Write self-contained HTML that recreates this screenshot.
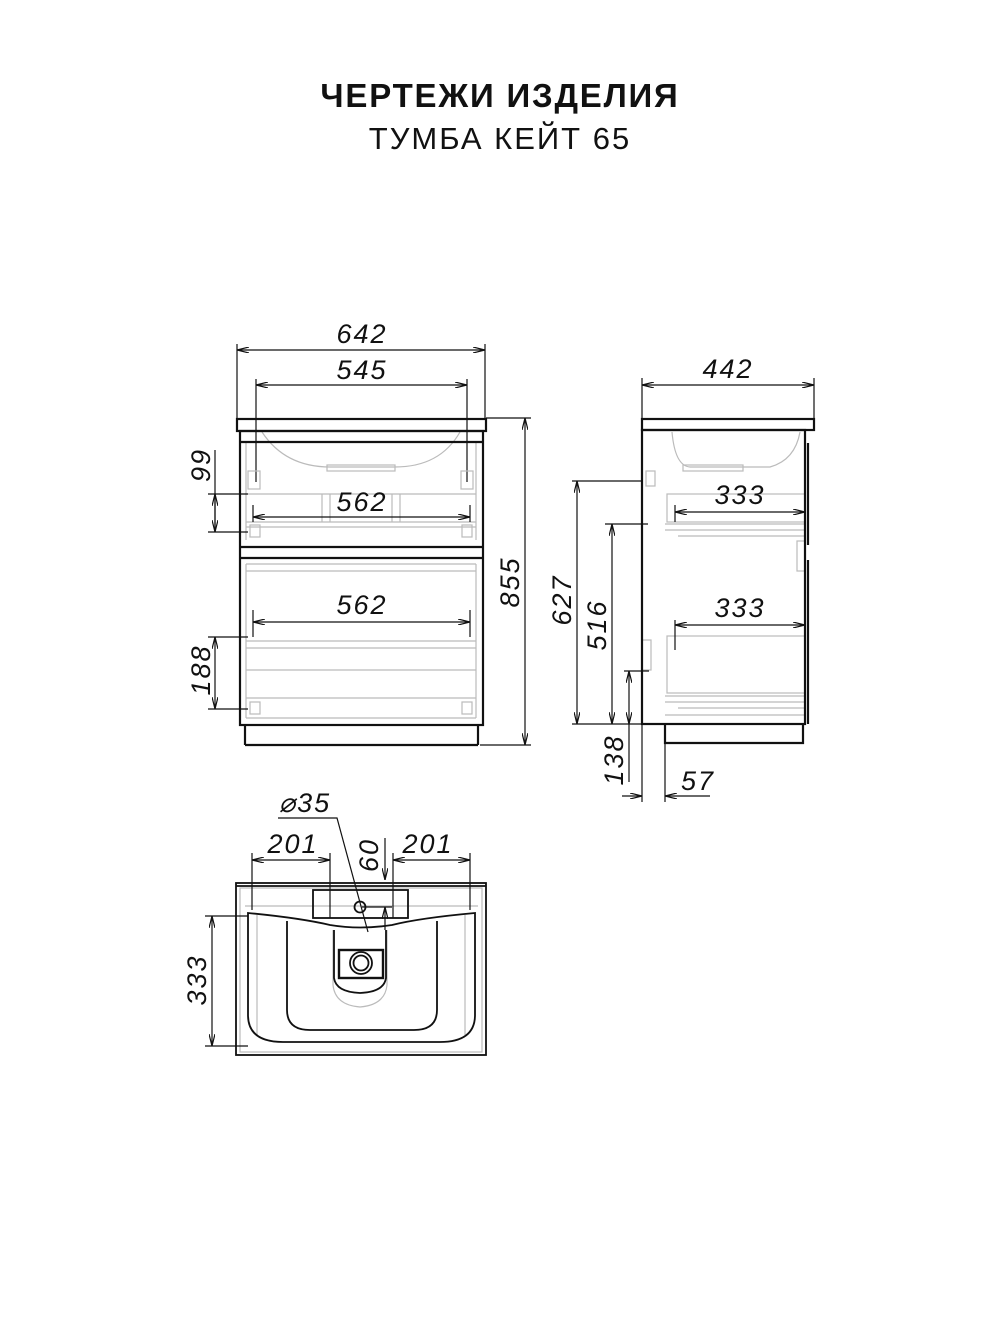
<!DOCTYPE html>
<html><head><meta charset="utf-8"><style>
html,body{margin:0;padding:0;background:#fff;}
svg{display:block;}
.t{font-family:"Liberation Sans",sans-serif;font-style:italic;font-size:27px;fill:#111;text-anchor:middle;letter-spacing:2px;}
</style></head><body>
<svg width="1000" height="1334" viewBox="0 0 1000 1334" xmlns="http://www.w3.org/2000/svg">
<defs>
<marker id="a" viewBox="0 0 12 6" refX="12" refY="3" markerWidth="12" markerHeight="6" orient="auto-start-reverse" markerUnits="userSpaceOnUse"><path d="M0,0 L12,3 L0,6" fill="none" stroke="#111" stroke-width="1.2"/></marker>
</defs>
<text x="500" y="107" font-family="Liberation Sans, sans-serif" font-weight="bold" font-size="33" letter-spacing="1.8" text-anchor="middle" fill="#111">ЧЕРТЕЖИ ИЗДЕЛИЯ</text>
<text x="500" y="149" font-family="Liberation Sans, sans-serif" font-size="31" letter-spacing="2" text-anchor="middle" fill="#111">ТУМБА КЕЙТ 65</text>

<g fill="none" stroke="#111" stroke-width="1.2">
<line x1="237" y1="344" x2="237" y2="418"/><line x1="485" y1="344" x2="485" y2="418"/>
<line x1="237" y1="350" x2="485" y2="350" marker-start="url(#a)" marker-end="url(#a)"/>
<line x1="256" y1="379" x2="256" y2="482"/><line x1="467" y1="379" x2="467" y2="482"/>
<line x1="256" y1="385" x2="467" y2="385" marker-start="url(#a)" marker-end="url(#a)"/>
</g>
<g fill="none" stroke="#bbb" stroke-width="1.2">
<path d="M262,432 Q285,467 330,467 L395,467 Q440,467 460,432"/>
<rect x="327" y="465" width="68" height="6"/>
<rect x="248" y="471" width="12" height="18"/><rect x="461" y="471" width="12" height="18"/>
<line x1="246" y1="494" x2="476" y2="494"/><line x1="246" y1="522" x2="476" y2="522"/><line x1="246" y1="527" x2="476" y2="527"/>
<line x1="322" y1="494" x2="322" y2="522"/><line x1="330" y1="494" x2="330" y2="522"/><line x1="392" y1="494" x2="392" y2="522"/><line x1="400" y1="494" x2="400" y2="522"/>
<rect x="250" y="525" width="10" height="12"/><rect x="462" y="525" width="10" height="12"/>
<line x1="246" y1="564" x2="476" y2="564"/><line x1="246" y1="571" x2="476" y2="571"/>
<line x1="246" y1="641" x2="476" y2="641"/><line x1="246" y1="648" x2="476" y2="648"/>
<line x1="246" y1="670" x2="476" y2="670"/><line x1="246" y1="698" x2="476" y2="698"/><line x1="246" y1="718" x2="476" y2="718"/>
<line x1="246" y1="564" x2="246" y2="718"/><line x1="476" y1="564" x2="476" y2="718"/>
<rect x="250" y="702" width="10" height="12"/><rect x="462" y="702" width="10" height="12"/>
<line x1="246" y1="442" x2="246" y2="540"/><line x1="476" y1="442" x2="476" y2="540"/>
</g>
<g fill="none" stroke="#111" stroke-width="2.2">
<rect x="237" y="419" width="249" height="12"/>
<rect x="240" y="431" width="243" height="294"/>
<line x1="240" y1="442" x2="483" y2="442"/>
<line x1="240" y1="547" x2="483" y2="547"/>
<line x1="240" y1="558" x2="483" y2="558"/>
<line x1="245" y1="725" x2="245" y2="745"/><line x1="478" y1="725" x2="478" y2="745"/>
<line x1="245" y1="745" x2="478" y2="745"/>
</g>
<g fill="none" stroke="#111" stroke-width="1.2">
<line x1="208" y1="494" x2="248" y2="494"/><line x1="208" y1="532" x2="248" y2="532"/>
<line x1="215" y1="450" x2="215" y2="532" /><line x1="215" y1="494" x2="215" y2="532" marker-start="url(#a)" marker-end="url(#a)"/>
<line x1="253" y1="505" x2="253" y2="522"/><line x1="470" y1="505" x2="470" y2="522"/>
<line x1="253" y1="517" x2="470" y2="517" marker-start="url(#a)" marker-end="url(#a)"/>
<line x1="253" y1="610" x2="253" y2="637"/><line x1="470" y1="610" x2="470" y2="637"/>
<line x1="253" y1="622" x2="470" y2="622" marker-start="url(#a)" marker-end="url(#a)"/>
<line x1="208" y1="637" x2="248" y2="637"/><line x1="208" y1="709" x2="248" y2="709"/>
<line x1="215" y1="637" x2="215" y2="709" marker-start="url(#a)" marker-end="url(#a)"/>
<line x1="486" y1="418" x2="531" y2="418"/><line x1="480" y1="745" x2="531" y2="745"/>
<line x1="525" y1="418" x2="525" y2="745" marker-start="url(#a)" marker-end="url(#a)"/>
</g>
<text class="t" x="362" y="343">642</text>
<text class="t" x="362" y="379">545</text>
<text class="t" x="362" y="511">562</text>
<text class="t" x="362" y="614">562</text>
<text class="t" transform="translate(210,465) rotate(-90)">99</text>
<text class="t" transform="translate(210,670) rotate(-90)">188</text>
<text class="t" transform="translate(519,582) rotate(-90)">855</text>

<g fill="none" stroke="#bbb" stroke-width="1.2">
<path d="M672,432 Q675,466 690,467 L770,467 Q795,460 800,432"/>
<rect x="683" y="465" width="60" height="6"/>
<rect x="646" y="471" width="9" height="15"/>
<rect x="667" y="494" width="138" height="28"/>
<line x1="665" y1="524" x2="805" y2="524"/><line x1="665" y1="530" x2="805" y2="530"/><line x1="678" y1="536" x2="805" y2="536"/>
<rect x="797" y="541" width="8" height="30"/>
<rect x="667" y="636" width="138" height="57"/>
<line x1="665" y1="696" x2="805" y2="696"/><line x1="665" y1="702" x2="805" y2="702"/><line x1="678" y1="708" x2="805" y2="708"/>
<line x1="665" y1="715" x2="805" y2="715"/>
<rect x="642" y="640" width="9" height="30"/>
</g>
<g fill="none" stroke="#111" stroke-width="2.2">
<rect x="642" y="419" width="172" height="11"/>
<rect x="642" y="430" width="163" height="294"/>
<line x1="808" y1="443" x2="808" y2="545"/><line x1="808" y1="560" x2="808" y2="724"/>
<polyline points="665,724 665,743 803,743 803,724"/>
</g>
<g fill="none" stroke="#111" stroke-width="1.2">
<line x1="642" y1="378" x2="642" y2="418"/><line x1="814" y1="378" x2="814" y2="418"/>
<line x1="642" y1="385" x2="814" y2="385" marker-start="url(#a)" marker-end="url(#a)"/>
<line x1="572" y1="481" x2="642" y2="481"/><line x1="572" y1="724" x2="642" y2="724"/>
<line x1="577" y1="481" x2="577" y2="724" marker-start="url(#a)" marker-end="url(#a)"/>
<line x1="605" y1="524" x2="648" y2="524"/>
<line x1="612" y1="524" x2="612" y2="724" marker-start="url(#a)" marker-end="url(#a)"/>
<line x1="624" y1="671" x2="649" y2="671"/>
<line x1="629" y1="671" x2="629" y2="724" marker-start="url(#a)" marker-end="url(#a)"/>
<line x1="629" y1="724" x2="629" y2="782"/>
<line x1="642" y1="724" x2="642" y2="802"/><line x1="665" y1="743" x2="665" y2="802"/>
<line x1="622" y1="796" x2="642" y2="796" marker-end="url(#a)"/>
<line x1="710" y1="796" x2="665" y2="796" marker-end="url(#a)"/>
<line x1="675" y1="505" x2="675" y2="522"/>
<line x1="675" y1="512" x2="805" y2="512" marker-start="url(#a)" marker-end="url(#a)"/>
<line x1="675" y1="620" x2="675" y2="650"/>
<line x1="675" y1="625" x2="805" y2="625" marker-start="url(#a)" marker-end="url(#a)"/>
</g>
<text class="t" x="728" y="378">442</text>
<text class="t" x="740" y="504">333</text>
<text class="t" x="740" y="617">333</text>
<text class="t" transform="translate(571,600) rotate(-90)">627</text>
<text class="t" transform="translate(606,625) rotate(-90)">516</text>
<text class="t" transform="translate(623,760) rotate(-90)">138</text>
<text class="t" x="698" y="790">57</text>

<g fill="none" stroke="#bbb" stroke-width="1.2">
<rect x="240" y="888" width="242" height="164"/>
<line x1="245" y1="906" x2="478" y2="906"/>
<path d="M333,930 L333,985 Q335,1005 360,1007 Q385,1005 387,985 L387,930"/>
<line x1="257" y1="915" x2="257" y2="1035"/><line x1="465" y1="915" x2="465" y2="1035"/>
</g>
<g fill="none" stroke="#111" stroke-width="1.8">
<rect x="236" y="883" width="250" height="172"/>
<line x1="236" y1="886" x2="486" y2="886"/>
<rect x="313" y="890" width="95" height="28"/>
<circle cx="360" cy="907" r="5.5"/>
<path d="M248,913 Q300,918 330,925 Q360,930 392,925 Q420,918 475,913 L475,1015 Q475,1042 440,1042 L283,1042 Q248,1042 248,1015 Z"/>
<path d="M287,921 L287,1010 Q287,1030 310,1030 L414,1030 Q437,1030 437,1010 L437,921"/>
<path d="M334,930 L334,978 Q336,992 360,993 Q384,992 386,978 L386,930"/>
<rect x="339" y="950" width="44" height="28" stroke-width="2.4"/>
<circle cx="361" cy="963" r="11"/><circle cx="361" cy="963" r="7.5"/>
</g>
<g fill="none" stroke="#111" stroke-width="1.2">
<line x1="252" y1="853" x2="252" y2="910"/><line x1="330" y1="853" x2="330" y2="918"/>
<line x1="252" y1="860" x2="330" y2="860" marker-start="url(#a)" marker-end="url(#a)"/>
<line x1="393" y1="853" x2="393" y2="918"/><line x1="470" y1="853" x2="470" y2="910"/>
<line x1="393" y1="860" x2="470" y2="860" marker-start="url(#a)" marker-end="url(#a)"/>
<line x1="385" y1="838" x2="385" y2="880" marker-end="url(#a)"/>
<line x1="385" y1="930" x2="385" y2="907" marker-end="url(#a)"/>
<line x1="362" y1="907" x2="392" y2="907"/>
<polyline points="278,818 337,818 368,932"/>
<line x1="205" y1="916" x2="248" y2="916"/><line x1="205" y1="1046" x2="248" y2="1046"/>
<line x1="212" y1="916" x2="212" y2="1046" marker-start="url(#a)" marker-end="url(#a)"/>
</g>
<text class="t" x="305" y="812">⌀35</text>
<text class="t" x="293" y="853">201</text>
<text class="t" x="428" y="853">201</text>
<text class="t" transform="translate(378,855) rotate(-90)">60</text>
<text class="t" transform="translate(206,980) rotate(-90)">333</text>
</svg>
</body></html>
